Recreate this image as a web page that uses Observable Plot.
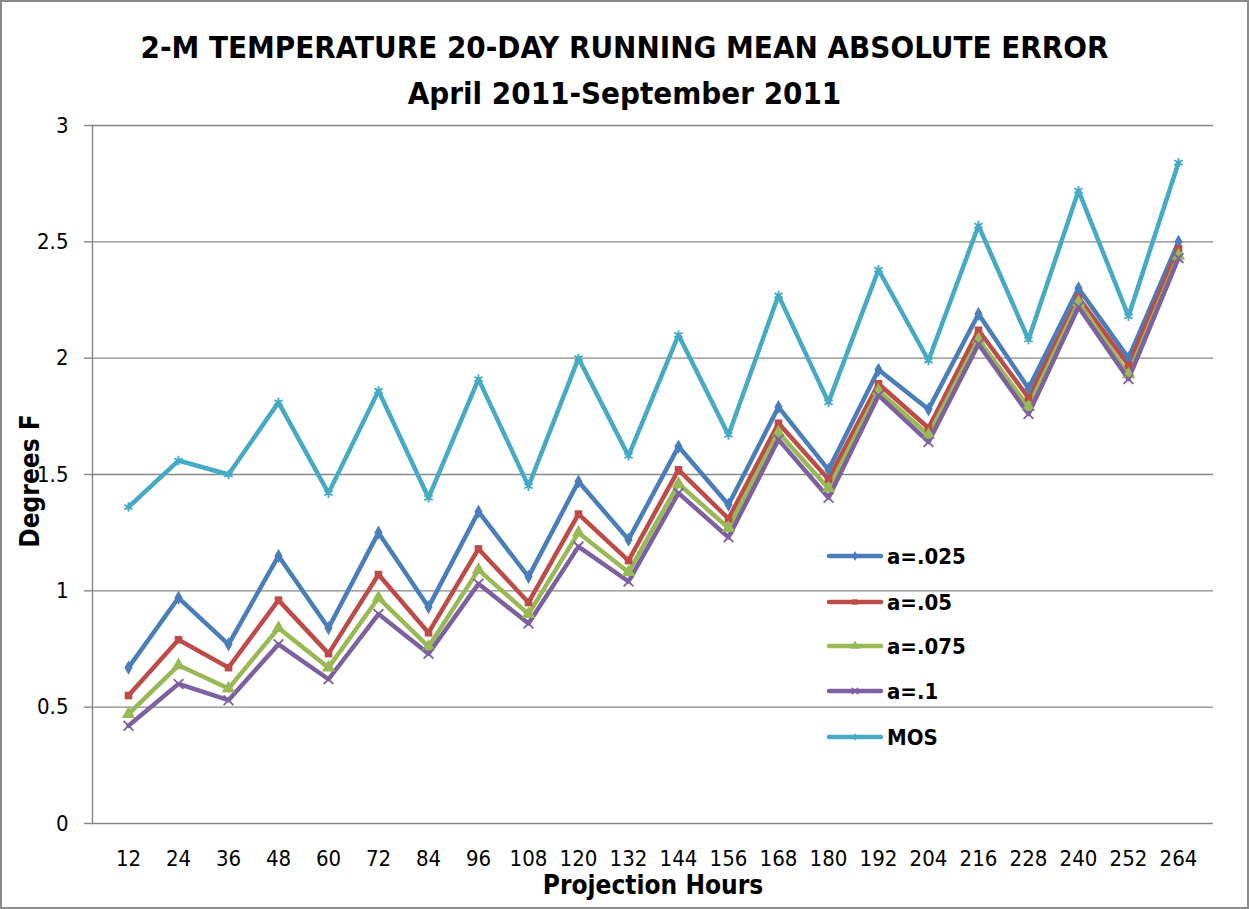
<!DOCTYPE html>
<html>
<head>
<meta charset="utf-8">
<script src="https://cdn.jsdelivr.net/npm/d3@7"></script>
<script src="https://cdn.jsdelivr.net/npm/@observablehq/plot@0.6"></script>
<style>
  body { margin: 0; background: #fff; }
  #chart { position: relative; width: 1249px; height: 909px; overflow: hidden; background: #fff;
           font-family: "DejaVu Sans Condensed", "Liberation Sans", sans-serif; color: #000; }
  #border { position: absolute; left: 0; top: 0; width: 1249px; height: 909px; box-sizing: border-box;
            border: 2px solid #8a8a8a; pointer-events: none; }
  #title { position: absolute; top: 24px; left: 0; width: 1249px; text-align: center; font-weight: bold;
           font-size: 31px; line-height: 46px; }
  #plot { position: absolute; top: 112px; left: 0; }
  #ylab { position: absolute; left: 30px; top: 481px; transform: translate(-50%, -50%) rotate(-90deg);
          font-weight: bold; font-size: 26px; white-space: nowrap; }
  #xlab { position: absolute; left: 653px; top: 885px; transform: translate(-50%, -50%);
          font-weight: bold; font-size: 26px; white-space: nowrap; }
  #legend { position: absolute; left: 826px; top: 540px; }
  .lrow { position: absolute; left: 0; display: flex; align-items: center; height: 32px; transform: translateY(-50%);
          font-weight: bold; font-size: 22px; white-space: nowrap; }
  .lrow svg { margin-right: 3px; }
  #plot svg text { font-family: "DejaVu Sans Condensed", "Liberation Sans", sans-serif; font-size: 22px; }
</style>
</head>
<body>
<div id="chart">
  <div id="title">2-M TEMPERATURE 20-DAY RUNNING MEAN ABSOLUTE ERROR<br>April 2011-September 2011</div>
  <div id="plot"></div>
  <div id="ylab">Degrees F</div>
  <div id="xlab">Projection Hours</div>
  <div id="legend"></div>
  <div id="border"></div>
</div>
<script>
const hours = [12, 24, 36, 48, 60, 72, 84, 96, 108, 120, 132, 144, 156, 168, 180, 192, 204, 216, 228, 240, 252, 264];
const a025 = [0.67, 0.97, 0.77, 1.15, 0.84, 1.25, 0.93, 1.34, 1.06, 1.47, 1.22, 1.62, 1.37, 1.79, 1.52, 1.95, 1.78, 2.19, 1.87, 2.30, 2.00, 2.50];
const a05  = [0.55, 0.79, 0.67, 0.96, 0.73, 1.07, 0.82, 1.18, 0.95, 1.33, 1.13, 1.52, 1.31, 1.72, 1.48, 1.89, 1.70, 2.12, 1.83, 2.26, 1.97, 2.47];
const a075 = [0.47, 0.68, 0.58, 0.84, 0.67, 0.97, 0.76, 1.09, 0.90, 1.25, 1.08, 1.46, 1.27, 1.68, 1.44, 1.86, 1.67, 2.08, 1.79, 2.24, 1.93, 2.44];
const a1   = [0.42, 0.60, 0.53, 0.77, 0.62, 0.90, 0.73, 1.03, 0.86, 1.19, 1.04, 1.42, 1.23, 1.65, 1.40, 1.84, 1.64, 2.06, 1.76, 2.22, 1.91, 2.43];
const mos  = [1.36, 1.56, 1.50, 1.81, 1.42, 1.86, 1.40, 1.91, 1.45, 2.00, 1.58, 2.10, 1.67, 2.27, 1.81, 2.38, 1.99, 2.57, 2.08, 2.72, 2.18, 2.84];

const seriesNames = ["a=.025", "a=.05", "a=.075", "a=.1", "MOS"];
const seriesColors = ["#4A7EBB", "#BE4B48", "#98B954", "#7D60A0", "#46AAC5"];
const seriesSymbols = ["diamond", "square", "triangle", "times", "asterisk"];
const yTicks = [0, 0.5, 1, 1.5, 2, 2.5, 3];
const yTickLabels = ["0", "0.5", "1", "1.5", "2", "2.5", "3"];

const seriesValues = [a025, a05, a075, a1, mos];
const rows = seriesNames.flatMap((s, i) => hours.map((h, j) => ({series: s, hour: h, value: seriesValues[i][j]})));

const strokeSyms = new Set(["times", "asterisk", "plus"]);
const d3Symbols = {diamond: d3.symbolDiamond, square: d3.symbolSquare, triangle: d3.symbolTriangle, times: d3.symbolTimes, asterisk: d3.symbolAsterisk};
const dotMarks = seriesNames.map((s, i) => {
  const sym = seriesSymbols[i];
  const data = rows.filter(d => d.series === s);
  return strokeSyms.has(sym)
    ? Plot.dot(data, {x: "hour", y: "value", symbol: () => sym, r: 4.5, stroke: seriesColors[i], strokeWidth: 1.8, fill: "none"})
    : Plot.dot(data, {x: "hour", y: "value", symbol: () => sym, r: sym === "triangle" ? 5 : 4.3, fill: seriesColors[i], stroke: "none"});
});

const chart = Plot.plot({
  width: 1249,
  height: 797,
  marginTop: 13,
  marginBottom: 86,
  marginLeft: 92,
  marginRight: 36,
  style: {background: "transparent", overflow: "visible", color: "#000"},
  x: {type: "point", domain: hours, padding: 0.5, label: null},
  y: {domain: [0, 3], label: null},
  symbol: {domain: seriesSymbols, range: seriesSymbols},
  marks: [
    Plot.gridY(yTicks, {stroke: "#878787", strokeOpacity: 1, strokeWidth: 1.4}),
    Plot.frame({anchor: "left", stroke: "#878787", strokeWidth: 1.4}),
    Plot.axisY(yTicks, {tickSize: 8, tickPadding: 16, stroke: "#878787", strokeWidth: 1.4, fill: "#000", fontSize: 22, tickFormat: (d) => yTickLabels[yTicks.indexOf(d)], label: null}),
    Plot.axisX(hours, {tickSize: 0, tickPadding: 27, fill: "#000", fontSize: 22, label: null}),
    ...seriesNames.map((s, i) => Plot.line(rows.filter(d => d.series === s), {x: "hour", y: "value", stroke: seriesColors[i], strokeWidth: 4.5, strokeLinejoin: "round", strokeLinecap: "round"})),
    ...dotMarks
  ]
});
document.getElementById("plot").appendChild(chart);

// Legend
const legendTops = [16, 62, 106, 151, 197];
const legend = document.getElementById("legend");
const ns = "http://www.w3.org/2000/svg";
seriesNames.forEach((s, i) => {
  const row = document.createElement("div");
  row.className = "lrow";
  row.style.top = legendTops[i] + "px";
  const svg = document.createElementNS(ns, "svg");
  svg.setAttribute("width", 58); svg.setAttribute("height", 14);
  const line = document.createElementNS(ns, "line");
  line.setAttribute("x1", 3); line.setAttribute("x2", 55); line.setAttribute("y1", 7); line.setAttribute("y2", 7);
  line.setAttribute("stroke", seriesColors[i]); line.setAttribute("stroke-width", 4.5); line.setAttribute("stroke-linecap", "round");
  svg.appendChild(line);
  const sym = seriesSymbols[i];
  const p = document.createElementNS(ns, "path");
  p.setAttribute("d", d3.symbol(d3Symbols[sym], sym === "triangle" ? 40 : 28)());
  p.setAttribute("transform", "translate(29,7)");
  if (strokeSyms.has(sym)) { p.setAttribute("fill", "none"); p.setAttribute("stroke", seriesColors[i]); p.setAttribute("stroke-width", 1.5); }
  else { p.setAttribute("fill", seriesColors[i]); }
  svg.appendChild(p);
  row.appendChild(svg);
  const t = document.createElement("span");
  t.textContent = s;
  row.appendChild(t);
  legend.appendChild(row);
});
</script>
</body>
</html>
